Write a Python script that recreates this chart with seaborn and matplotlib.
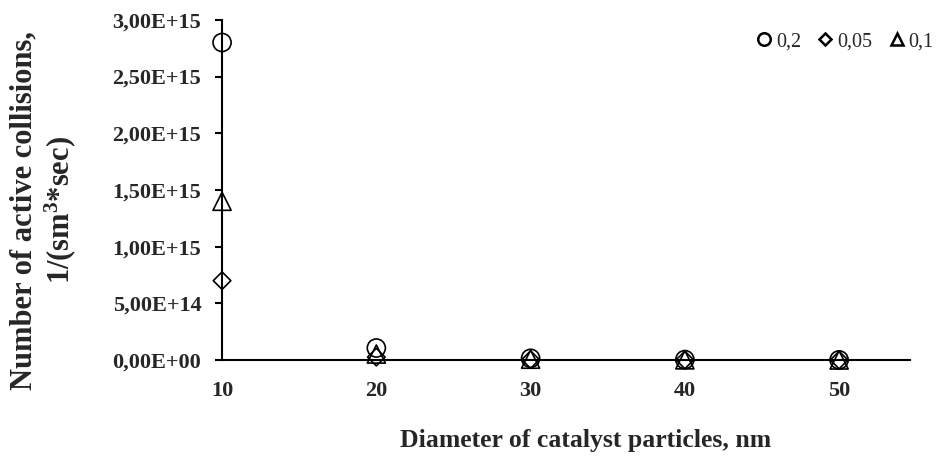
import matplotlib
matplotlib.use("Agg")
import matplotlib.pyplot as plt
import matplotlib.ticker as mticker
from matplotlib.lines import Line2D
import numpy as np
import pandas as pd
import seaborn as sns

# Particle diameters, nm
diameters = [10, 20, 30, 40, 50]

# Number of active collisions, 1/(sm^3*sec), per concentration series
series_02 = [2.80e15, 1.06e14, 1.5e13, 4.0e12, 1.3e12]
series_005 = [7.00e14, 2.6e13, 3.8e12, 1.0e12, 3.3e11]
series_01 = [1.40e15, 5.3e13, 7.5e12, 2.0e12, 6.6e11]

series_names = ["0,2", "0,05", "0,1"]
series_markers = ["o", "D", "^"]
series_sizes = [170, 80, 170]

y_ticks = [0, 5e14, 1e15, 1.5e15, 2e15, 2.5e15, 3e15]
x_ticks = [10, 20, 30, 40, 50]

df = pd.DataFrame({
    "diameter": diameters * 3,
    "collisions": series_02 + series_005 + series_01,
    "series": [n for n in series_names for _ in diameters],
})

sns.set_theme(style="white")
plt.rcParams["font.family"] = ["Liberation Serif", "DejaVu Serif"]
plt.rcParams["mathtext.fontset"] = "custom"
plt.rcParams["mathtext.bf"] = "Liberation Serif:bold"
plt.rcParams["mathtext.rm"] = "Liberation Serif"

fig = plt.figure(figsize=(9.49, 4.61), dpi=100)
ax = fig.add_axes([0.234, 0.219, 0.725, 0.738])

for name, mk, sz in zip(series_names, series_markers, series_sizes):
    sub = df[df["series"] == name]
    sns.scatterplot(data=sub, x="diameter", y="collisions", ax=ax,
                    marker=mk, s=sz, facecolor="none", edgecolor="black",
                    linewidth=1.2, legend=False, zorder=3, clip_on=False)

ax.set_xlim(10, 54.6)
ax.set_ylim(0, 3e15)
ax.set_xticks(x_ticks)
ax.set_yticks(y_ticks)


def sci_comma(v, pos):
    s = f"{v:.2E}"
    return s.replace(".", ",")


ax.yaxis.set_major_formatter(mticker.FuncFormatter(sci_comma))

for side in ["top", "right"]:
    ax.spines[side].set_visible(False)
for side in ["left", "bottom"]:
    ax.spines[side].set_color("black")
    ax.spines[side].set_linewidth(1.5)

ax.tick_params(axis="y", direction="out", length=5, width=1.5, color="black",
               left=True, labelsize=16, pad=10)
ax.tick_params(axis="x", length=0, labelsize=16, pad=15)
for lbl in ax.get_xticklabels() + ax.get_yticklabels():
    lbl.set_fontweight("bold")

ax.set_xlabel("")
ax.set_ylabel("")
fig.text(0.617, 0.045, "Diameter of catalyst particles, nm", ha="center", va="center",
         fontsize=18.5, fontweight="bold")
fig.text(0.046, 0.544, "Number of active collisions,\n1/(sm$\\mathbf{^3}$*sec)",
         ha="center", va="center", rotation=90, fontsize=22, fontweight="bold",
         linespacing=1.15)

handles = [Line2D([], [], linestyle="none", marker=mk, markersize=ms,
                  markerfacecolor="none", markeredgecolor="black", markeredgewidth=1.8)
           for mk, ms in zip(["o", "D", "^"], [9, 6, 9])]
fig.legend(handles, series_names, loc="upper right", bbox_to_anchor=(1.003, 0.97),
           ncol=3, frameon=False, fontsize=14.5, handletextpad=0.1,
           columnspacing=0.7, handlelength=1.0)

fig.savefig("out.png", dpi=100)
